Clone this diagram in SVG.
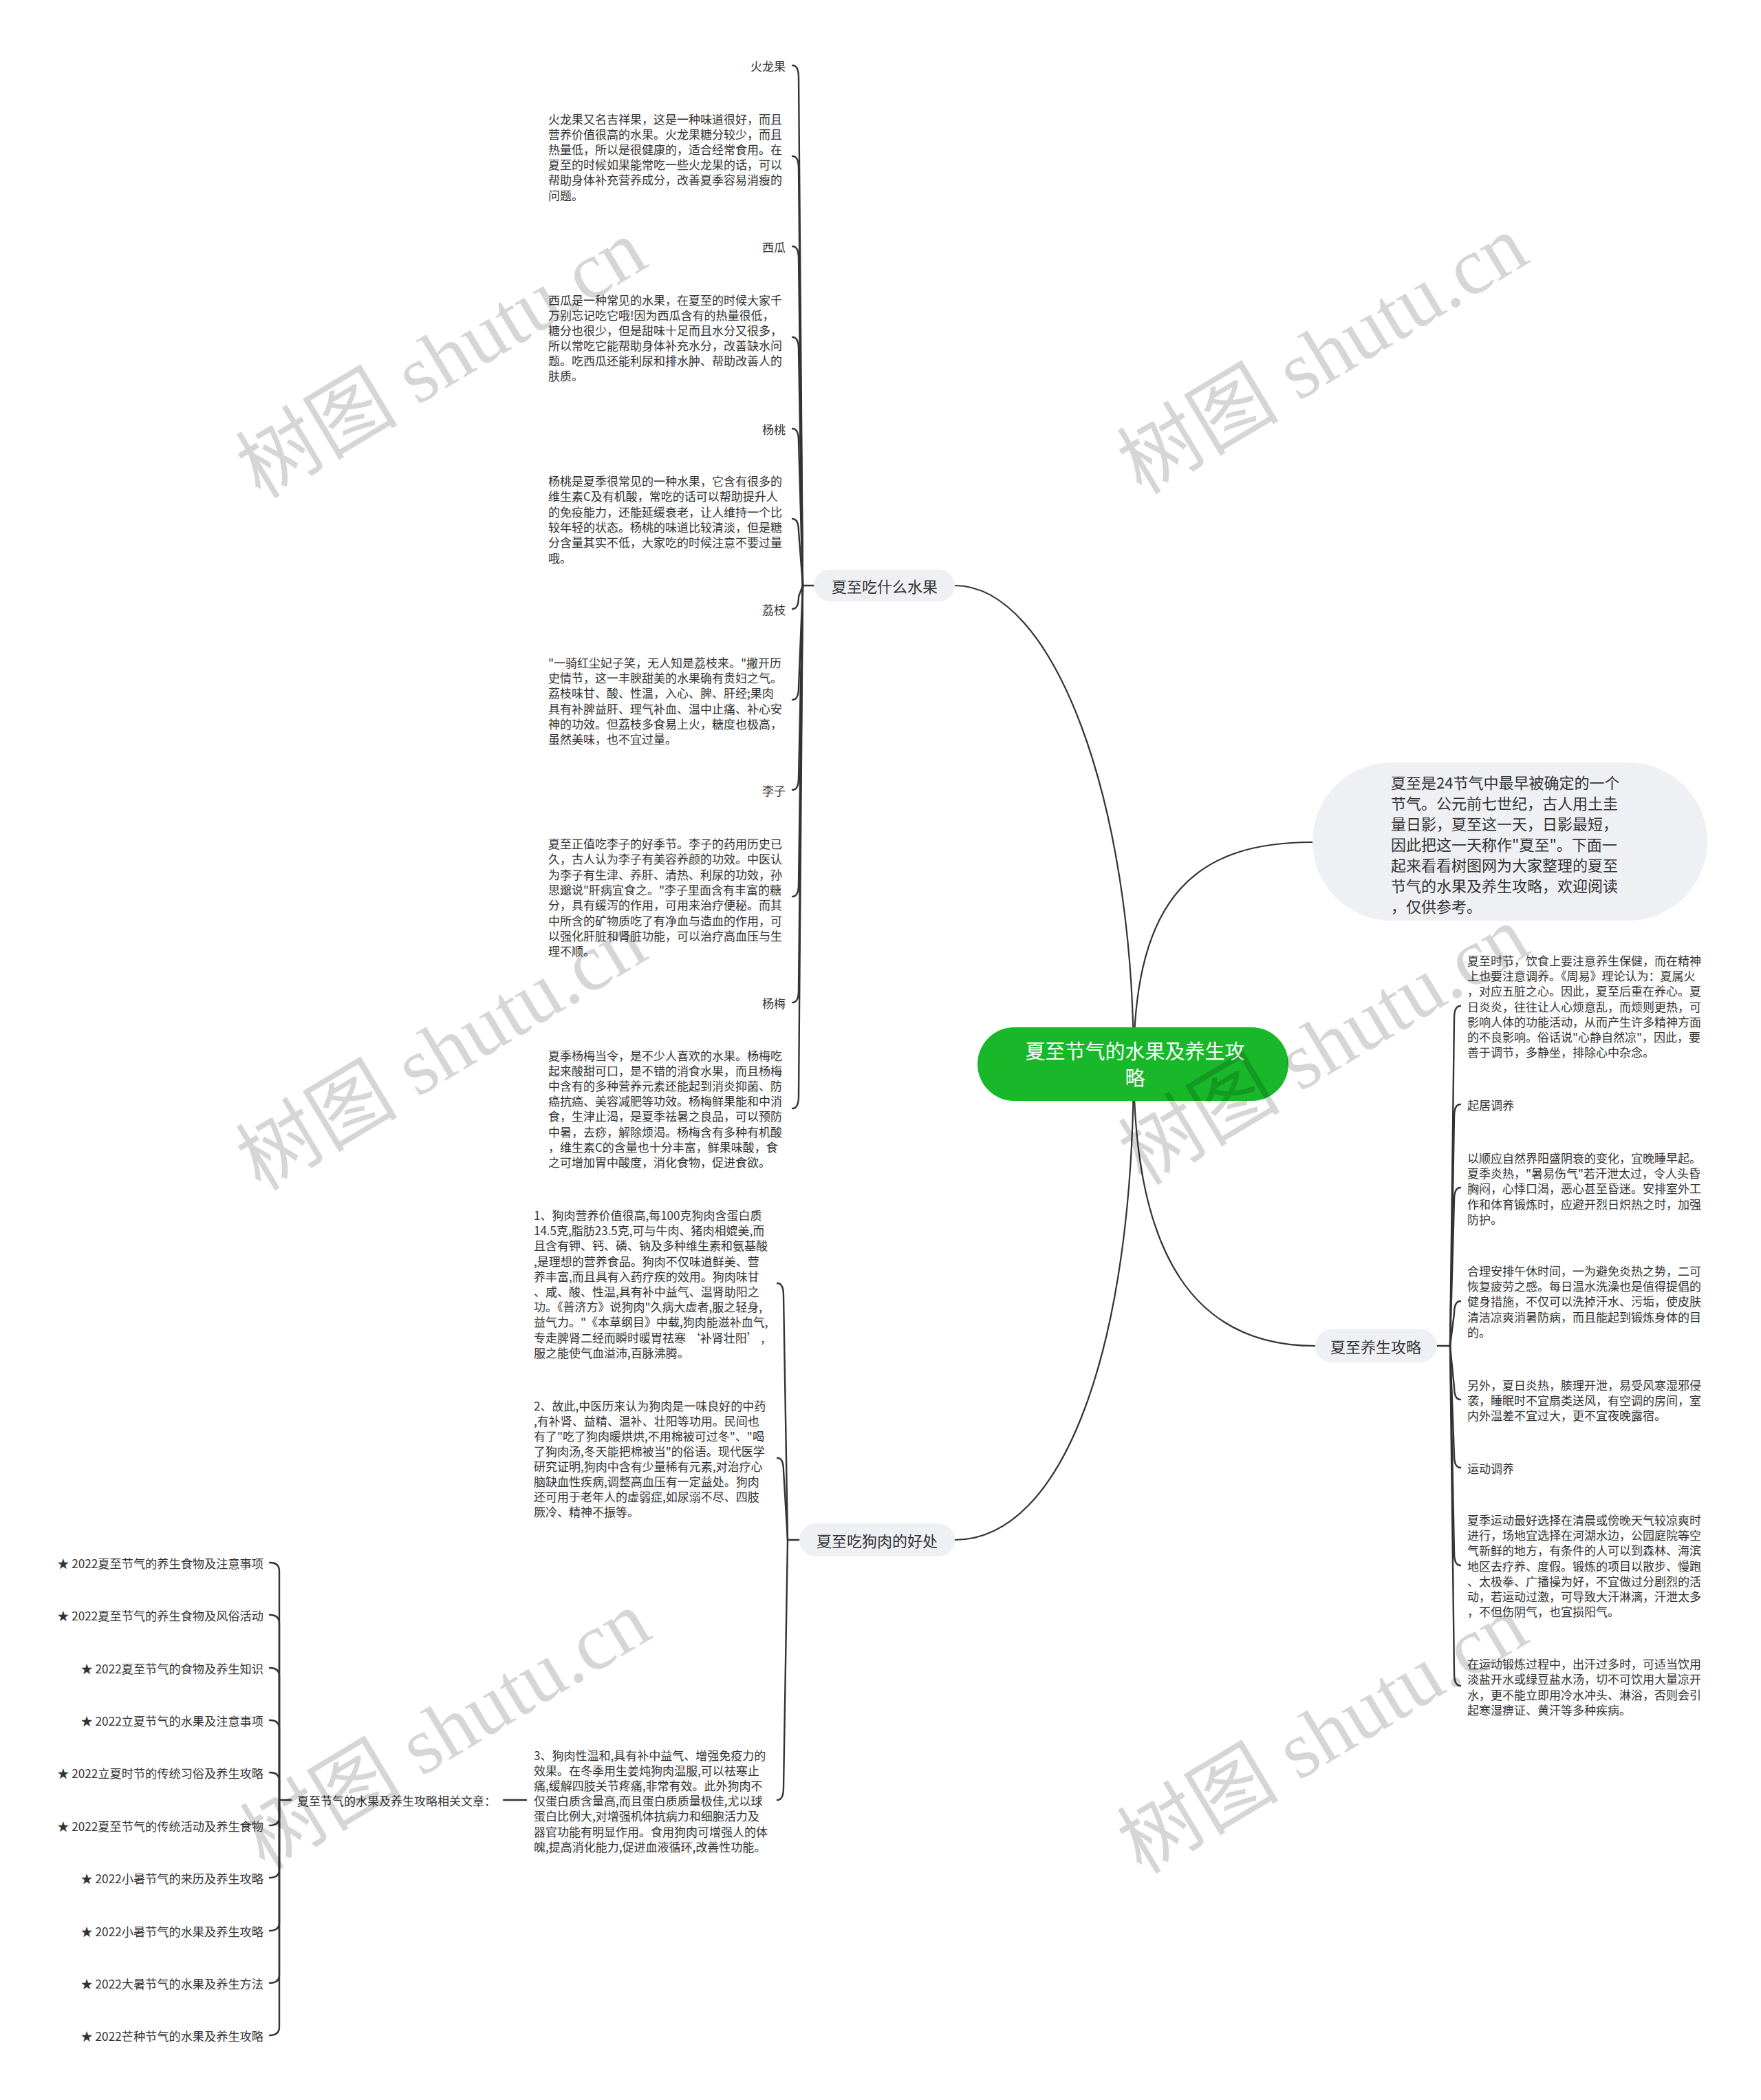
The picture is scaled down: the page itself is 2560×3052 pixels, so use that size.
<svg xmlns="http://www.w3.org/2000/svg" width="2560" height="3052" viewBox="0 0 2560 3052">
<style>
text{font-family:"Noto Sans CJK SC","Noto Sans",sans-serif;fill:#333;dominant-baseline:central}
.s{font-size:17px}
.i{font-size:17.2px}
.p{font-size:22px}
.main{fill:none;stroke:#333;stroke-width:2.2}
.br{fill:none;stroke:#333;stroke-width:2.4;stroke-linecap:round}
.pill{fill:#eef0f3}
.wm{font-family:"Liberation Serif","Noto Sans CJK SC",serif;font-size:118px;fill:#000;fill-opacity:0.16}
</style>
<rect width="2560" height="3052" fill="#fff"/>
<g id="connectors">
<path class="main" d="M1648 1546 C1648 1162 1531 851 1388 851"/>
<path class="main" d="M1648 1546 C1648 1300 1740 1224 1908 1224"/>
<path class="main" d="M1648 1546 C1648 1830 1740 1956 1912 1956"/>
<path class="main" d="M1648 1546 C1648 1960 1545 2238 1388 2238"/>
<path class="br" d="M1167 851 L1183 851"/>
<path class="br" d="M1152 95 Q1161 95 1161 113 L1167 851"/>
<path class="br" d="M1152 227 Q1161 227 1161 245 L1167 851"/>
<path class="br" d="M1152 358 Q1161 358 1161 376 L1167 851"/>
<path class="br" d="M1152 490 Q1161 490 1161 508 L1167 851"/>
<path class="br" d="M1152 623 Q1161 623 1161 641 L1167 851"/>
<path class="br" d="M1152 754 Q1161 754 1161 772 L1167 851"/>
<path class="br" d="M1152 885 Q1161 885 1161 867 L1167 851"/>
<path class="br" d="M1152 1017 Q1161 1017 1161 999 L1167 851"/>
<path class="br" d="M1152 1148 Q1161 1148 1161 1130 L1167 851"/>
<path class="br" d="M1152 1303 Q1161 1303 1161 1285 L1167 851"/>
<path class="br" d="M1152 1457 Q1161 1457 1161 1439 L1167 851"/>
<path class="br" d="M1152 1611 Q1161 1611 1161 1593 L1167 851"/>
<path class="br" d="M1145 2238 L1162 2238"/>
<path class="br" d="M1130 1865 Q1139 1865 1139 1883 L1145 2238"/>
<path class="br" d="M1130 2119 Q1139 2119 1139 2137 L1145 2238"/>
<path class="br" d="M1130 2616 Q1139 2616 1139 2598 L1145 2238"/>
<path class="br" d="M732 2616 L765 2616"/>
<path class="br" d="M2089 1956 L2108 1956"/>
<path class="br" d="M2123 1462 Q2114 1462 2114 1480 L2108 1956"/>
<path class="br" d="M2123 1605 Q2114 1605 2114 1623 L2108 1956"/>
<path class="br" d="M2123 1726 Q2114 1726 2114 1744 L2108 1956"/>
<path class="br" d="M2123 1891 Q2114 1891 2114 1909 L2108 1956"/>
<path class="br" d="M2123 2034 Q2114 2034 2114 2016 L2108 1956"/>
<path class="br" d="M2123 2133 Q2114 2133 2114 2115 L2108 1956"/>
<path class="br" d="M2123 2275 Q2114 2275 2114 2257 L2108 1956"/>
<path class="br" d="M2123 2450 Q2114 2450 2114 2432 L2108 1956"/>
<path class="br" d="M406 2616 L423 2616"/>
<path class="br" d="M392 2271 Q406 2271 406 2283 L406 2616"/>
<path class="br" d="M392 2347 Q406 2347 406 2359 L406 2616"/>
<path class="br" d="M392 2424 Q406 2424 406 2436 L406 2616"/>
<path class="br" d="M392 2500 Q406 2500 406 2512 L406 2616"/>
<path class="br" d="M392 2576 Q406 2576 406 2588 L406 2616"/>
<path class="br" d="M392 2653 Q406 2653 406 2641 L406 2616"/>
<path class="br" d="M392 2729 Q406 2729 406 2717 L406 2616"/>
<path class="br" d="M392 2806 Q406 2806 406 2794 L406 2616"/>
<path class="br" d="M392 2882 Q406 2882 406 2870 L406 2616"/>
<path class="br" d="M392 2958 Q406 2958 406 2946 L406 2616"/>
</g>
<g id="root">
<rect x="1421" y="1493" width="452" height="107" rx="53.5" fill="#18b82a"/>
<text x="1650" y="1526" text-anchor="middle" style="font-size:29px;fill:#fff">夏至节气的水果及养生攻</text>
<text x="1650" y="1565" text-anchor="middle" style="font-size:29px;fill:#fff">略</text>
</g>
<g id="intro">
<rect class="pill" x="1908" y="1108" width="574" height="230" rx="115"/>
<text class="p" x="2022"><tspan x="2022" y="1136">夏至是24节气中最早被确定的一个</tspan><tspan x="2022" y="1166">节气。公元前七世纪，古人用土圭</tspan><tspan x="2022" y="1196">量日影，夏至这一天，日影最短，</tspan><tspan x="2022" y="1226">因此把这一天称作"夏至"。下面一</tspan><tspan x="2022" y="1256">起来看看树图网为大家整理的夏至</tspan><tspan x="2022" y="1286">节气的水果及养生攻略，欢迎阅读</tspan><tspan x="2022" y="1316">，仅供参考。</tspan></text>
</g>
<g id="fruit">
<rect class="pill" x="1183" y="828" width="205" height="46" rx="23"/>
<text class="p" x="1286" y="851" text-anchor="middle">夏至吃什么水果</text>
</g>
<g id="fruit-1"><text class="s" x="1142" y="95" text-anchor="end">火龙果</text></g>
<g id="fruit-1-t"><text class="s"><tspan x="797" y="172">火龙果又名吉祥果，这是一种味道很好，而且</tspan><tspan x="797" dy="22.1">营养价值很高的水果。火龙果糖分较少，而且</tspan><tspan x="797" dy="22.1">热量低，所以是很健康的，适合经常食用。在</tspan><tspan x="797" dy="22.1">夏至的时候如果能常吃一些火龙果的话，可以</tspan><tspan x="797" dy="22.1">帮助身体补充营养成分，改善夏季容易消瘦的</tspan><tspan x="797" dy="22.1">问题。</tspan></text></g>
<g id="fruit-2"><text class="s" x="1142" y="358" text-anchor="end">西瓜</text></g>
<g id="fruit-2-t"><text class="s"><tspan x="797" y="435">西瓜是一种常见的水果，在夏至的时候大家千</tspan><tspan x="797" dy="22">万别忘记吃它哦!因为西瓜含有的热量很低，</tspan><tspan x="797" dy="22">糖分也很少，但是甜味十足而且水分又很多，</tspan><tspan x="797" dy="22">所以常吃它能帮助身体补充水分，改善缺水问</tspan><tspan x="797" dy="22">题。吃西瓜还能利尿和排水肿、帮助改善人的</tspan><tspan x="797" dy="22">肤质。</tspan></text></g>
<g id="fruit-3"><text class="s" x="1142" y="623" text-anchor="end">杨桃</text></g>
<g id="fruit-3-t"><text class="s"><tspan x="797" y="698">杨桃是夏季很常见的一种水果，它含有很多的</tspan><tspan x="797" dy="22.3">维生素C及有机酸，常吃的话可以帮助提升人</tspan><tspan x="797" dy="22.3">的免疫能力，还能延缓衰老，让人维持一个比</tspan><tspan x="797" dy="22.3">较年轻的状态。杨桃的味道比较清淡，但是糖</tspan><tspan x="797" dy="22.3">分含量其实不低，大家吃的时候注意不要过量</tspan><tspan x="797" dy="22.3">哦。</tspan></text></g>
<g id="fruit-4"><text class="s" x="1142" y="885" text-anchor="end">荔枝</text></g>
<g id="fruit-4-t"><text class="s"><tspan x="797" y="962">"一骑红尘妃子笑，无人知是荔枝来。"撇开历</tspan><tspan x="797" dy="22.2">史情节，这一丰腴甜美的水果确有贵妇之气。</tspan><tspan x="797" dy="22.2">荔枝味甘、酸、性温，入心、脾、肝经;果肉</tspan><tspan x="797" dy="22.2">具有补脾益肝、理气补血、温中止痛、补心安</tspan><tspan x="797" dy="22.2">神的功效。但荔枝多食易上火，糖度也极高，</tspan><tspan x="797" dy="22.2">虽然美味，也不宜过量。</tspan></text></g>
<g id="fruit-5"><text class="s" x="1142" y="1148" text-anchor="end">李子</text></g>
<g id="fruit-5-t"><text class="s"><tspan x="797" y="1225">夏至正值吃李子的好季节。李子的药用历史已</tspan><tspan x="797" dy="22.3">久，古人认为李子有美容养颜的功效。中医认</tspan><tspan x="797" dy="22.3">为李子有生津、养肝、清热、利尿的功效，孙</tspan><tspan x="797" dy="22.3">思邈说"肝病宜食之。"李子里面含有丰富的糖</tspan><tspan x="797" dy="22.3">分，具有缓泻的作用，可用来治疗便秘。而其</tspan><tspan x="797" dy="22.3">中所含的矿物质吃了有净血与造血的作用，可</tspan><tspan x="797" dy="22.3">以强化肝脏和肾脏功能，可以治疗高血压与生</tspan><tspan x="797" dy="22.3">理不顺。</tspan></text></g>
<g id="fruit-6"><text class="s" x="1142" y="1457" text-anchor="end">杨梅</text></g>
<g id="fruit-6-t"><text class="s"><tspan x="797" y="1533">夏季杨梅当令，是不少人喜欢的水果。杨梅吃</tspan><tspan x="797" dy="22.1">起来酸甜可口，是不错的消食水果，而且杨梅</tspan><tspan x="797" dy="22.1">中含有的多种营养元素还能起到消炎抑菌、防</tspan><tspan x="797" dy="22.1">癌抗癌、美容减肥等功效。杨梅鲜果能和中消</tspan><tspan x="797" dy="22.1">食，生津止渴，是夏季祛暑之良品，可以预防</tspan><tspan x="797" dy="22.1">中暑，去痧，解除烦渴。杨梅含有多种有机酸</tspan><tspan x="797" dy="22.1">，维生素C的含量也十分丰富，鲜果味酸，食</tspan><tspan x="797" dy="22.1">之可增加胃中酸度，消化食物，促进食欲。</tspan></text></g>
<g id="dog">
<rect class="pill" x="1162" y="2214" width="226" height="48" rx="24"/>
<text class="p" x="1275" y="2238" text-anchor="middle">夏至吃狗肉的好处</text>
</g>
<g id="dog-1"><text class="s"><tspan x="776" y="1765">1、狗肉营养价值很高,每100克狗肉含蛋白质</tspan><tspan x="776" dy="22.2">14.5克,脂肪23.5克,可与牛肉、猪肉相媲美,而</tspan><tspan x="776" dy="22.2">且含有钾、钙、磷、钠及多种维生素和氨基酸</tspan><tspan x="776" dy="22.2">,是理想的营养食品。狗肉不仅味道鲜美、营</tspan><tspan x="776" dy="22.2">养丰富,而且具有入药疗疾的效用。狗肉味甘</tspan><tspan x="776" dy="22.2">、咸、酸、性温,具有补中益气、温肾助阳之</tspan><tspan x="776" dy="22.2">功。《普济方》说狗肉"久病大虚者,服之轻身,</tspan><tspan x="776" dy="22.2">益气力。"《本草纲目》中载,狗肉能滋补血气,</tspan><tspan x="776" dy="22.2">专走脾肾二经而瞬时暖胃祛寒 ‘补肾壮阳’ ,</tspan><tspan x="776" dy="22.2">服之能使气血溢沛,百脉沸腾。</tspan></text></g>
<g id="dog-2"><text class="s"><tspan x="776" y="2042">2、故此,中医历来认为狗肉是一味良好的中药</tspan><tspan x="776" dy="22">,有补肾、益精、温补、壮阳等功用。民间也</tspan><tspan x="776" dy="22">有了"吃了狗肉暖烘烘,不用棉被可过冬"、"喝</tspan><tspan x="776" dy="22">了狗肉汤,冬天能把棉被当"的俗语。现代医学</tspan><tspan x="776" dy="22">研究证明,狗肉中含有少量稀有元素,对治疗心</tspan><tspan x="776" dy="22">脑缺血性疾病,调整高血压有一定益处。狗肉</tspan><tspan x="776" dy="22">还可用于老年人的虚弱症,如尿溺不尽、四肢</tspan><tspan x="776" dy="22">厥冷、精神不振等。</tspan></text></g>
<g id="dog-3"><text class="s"><tspan x="776" y="2550">3、狗肉性温和,具有补中益气、增强免疫力的</tspan><tspan x="776" dy="22.1">效果。在冬季用生姜炖狗肉温服,可以祛寒止</tspan><tspan x="776" dy="22.1">痛,缓解四肢关节疼痛,非常有效。此外狗肉不</tspan><tspan x="776" dy="22.1">仅蛋白质含量高,而且蛋白质质量极佳,尤以球</tspan><tspan x="776" dy="22.1">蛋白比例大,对增强机体抗病力和细胞活力及</tspan><tspan x="776" dy="22.1">器官功能有明显作用。食用狗肉可增强人的体</tspan><tspan x="776" dy="22.1">魄,提高消化能力,促进血液循环,改善性功能。</tspan></text></g>
<g id="related"><text class="s" x="432" y="2616">夏至节气的水果及养生攻略相关文章：</text></g>
<g id="related-items">
<text class="i" x="383" y="2271" text-anchor="end">★ 2022夏至节气的养生食物及注意事项</text>
<text class="i" x="383" y="2347" text-anchor="end">★ 2022夏至节气的养生食物及风俗活动</text>
<text class="i" x="383" y="2424" text-anchor="end">★ 2022夏至节气的食物及养生知识</text>
<text class="i" x="383" y="2500" text-anchor="end">★ 2022立夏节气的水果及注意事项</text>
<text class="i" x="383" y="2576" text-anchor="end">★ 2022立夏时节的传统习俗及养生攻略</text>
<text class="i" x="383" y="2653" text-anchor="end">★ 2022夏至节气的传统活动及养生食物</text>
<text class="i" x="383" y="2729" text-anchor="end">★ 2022小暑节气的来历及养生攻略</text>
<text class="i" x="383" y="2806" text-anchor="end">★ 2022小暑节气的水果及养生攻略</text>
<text class="i" x="383" y="2882" text-anchor="end">★ 2022大暑节气的水果及养生方法</text>
<text class="i" x="383" y="2958" text-anchor="end">★ 2022芒种节气的水果及养生攻略</text>
</g>
<g id="health">
<rect class="pill" x="1912" y="1932" width="177" height="48" rx="24"/>
<text class="p" x="2000" y="1956" text-anchor="middle">夏至养生攻略</text>
</g>
<g id="health-1"><text class="s"><tspan x="2133" y="1395">夏至时节，饮食上要注意养生保健，而在精神</tspan><tspan x="2133" dy="22.2">上也要注意调养。《周易》理论认为：夏属火</tspan><tspan x="2133" dy="22.2">，对应五脏之心。因此，夏至后重在养心。夏</tspan><tspan x="2133" dy="22.2">日炎炎，往往让人心烦意乱，而烦则更热，可</tspan><tspan x="2133" dy="22.2">影响人体的功能活动，从而产生许多精神方面</tspan><tspan x="2133" dy="22.2">的不良影响。俗话说"心静自然凉"，因此，要</tspan><tspan x="2133" dy="22.2">善于调节，多静坐，排除心中杂念。</tspan></text></g>
<g id="health-2"><text class="s" x="2133" y="1605">起居调养</text></g>
<g id="health-3"><text class="s"><tspan x="2133" y="1682">以顺应自然界阳盛阴衰的变化，宜晚睡早起。</tspan><tspan x="2133" dy="22.2">夏季炎热，"暑易伤气"若汗泄太过，令人头昏</tspan><tspan x="2133" dy="22.2">胸闷，心悸口渴，恶心甚至昏迷。安排室外工</tspan><tspan x="2133" dy="22.2">作和体育锻炼时，应避开烈日炽热之时，加强</tspan><tspan x="2133" dy="22.2">防护。</tspan></text></g>
<g id="health-4"><text class="s"><tspan x="2133" y="1846">合理安排午休时间，一为避免炎热之势，二可</tspan><tspan x="2133" dy="22.2">恢复疲劳之感。每日温水洗澡也是值得提倡的</tspan><tspan x="2133" dy="22.2">健身措施，不仅可以洗掉汗水、污垢，使皮肤</tspan><tspan x="2133" dy="22.2">清洁凉爽消暑防病，而且能起到锻炼身体的目</tspan><tspan x="2133" dy="22.2">的。</tspan></text></g>
<g id="health-5"><text class="s"><tspan x="2133" y="2012">另外，夏日炎热，腠理开泄，易受风寒湿邪侵</tspan><tspan x="2133" dy="22.2">袭，睡眠时不宜扇类送风，有空调的房间，室</tspan><tspan x="2133" dy="22.2">内外温差不宜过大，更不宜夜晚露宿。</tspan></text></g>
<g id="health-6"><text class="s" x="2133" y="2133">运动调养</text></g>
<g id="health-7"><text class="s"><tspan x="2133" y="2208">夏季运动最好选择在清晨或傍晚天气较凉爽时</tspan><tspan x="2133" dy="22.2">进行，场地宜选择在河湖水边，公园庭院等空</tspan><tspan x="2133" dy="22.2">气新鲜的地方，有条件的人可以到森林、海滨</tspan><tspan x="2133" dy="22.2">地区去疗养、度假。锻炼的项目以散步、慢跑</tspan><tspan x="2133" dy="22.2">、太极拳、广播操为好，不宜做过分剧烈的活</tspan><tspan x="2133" dy="22.2">动，若运动过激，可导致大汗淋漓，汗泄太多</tspan><tspan x="2133" dy="22.2">，不但伤阴气，也宜损阳气。</tspan></text></g>
<g id="health-8"><text class="s"><tspan x="2133" y="2417">在运动锻炼过程中，出汗过多时，可适当饮用</tspan><tspan x="2133" dy="22.4">淡盐开水或绿豆盐水汤，切不可饮用大量凉开</tspan><tspan x="2133" dy="22.4">水，更不能立即用冷水冲头、淋浴，否则会引</tspan><tspan x="2133" dy="22.4">起寒湿痹证、黄汗等多种疾病。</tspan></text></g>
<g id="watermarks">
<text class="wm" x="642" y="522" text-anchor="middle" transform="rotate(-31 642 522)">树图 shutu.cn</text>
<text class="wm" x="1923" y="516" text-anchor="middle" transform="rotate(-31 1923 516)">树图 shutu.cn</text>
<text class="wm" x="642" y="1528" text-anchor="middle" transform="rotate(-31 642 1528)">树图 shutu.cn</text>
<text class="wm" x="1925" y="1520" text-anchor="middle" transform="rotate(-31 1925 1520)">树图 shutu.cn</text>
<text class="wm" x="648" y="2515" text-anchor="middle" transform="rotate(-31 648 2515)">树图 shutu.cn</text>
<text class="wm" x="1923" y="2521" text-anchor="middle" transform="rotate(-31 1923 2521)">树图 shutu.cn</text>
</g>
</svg>
